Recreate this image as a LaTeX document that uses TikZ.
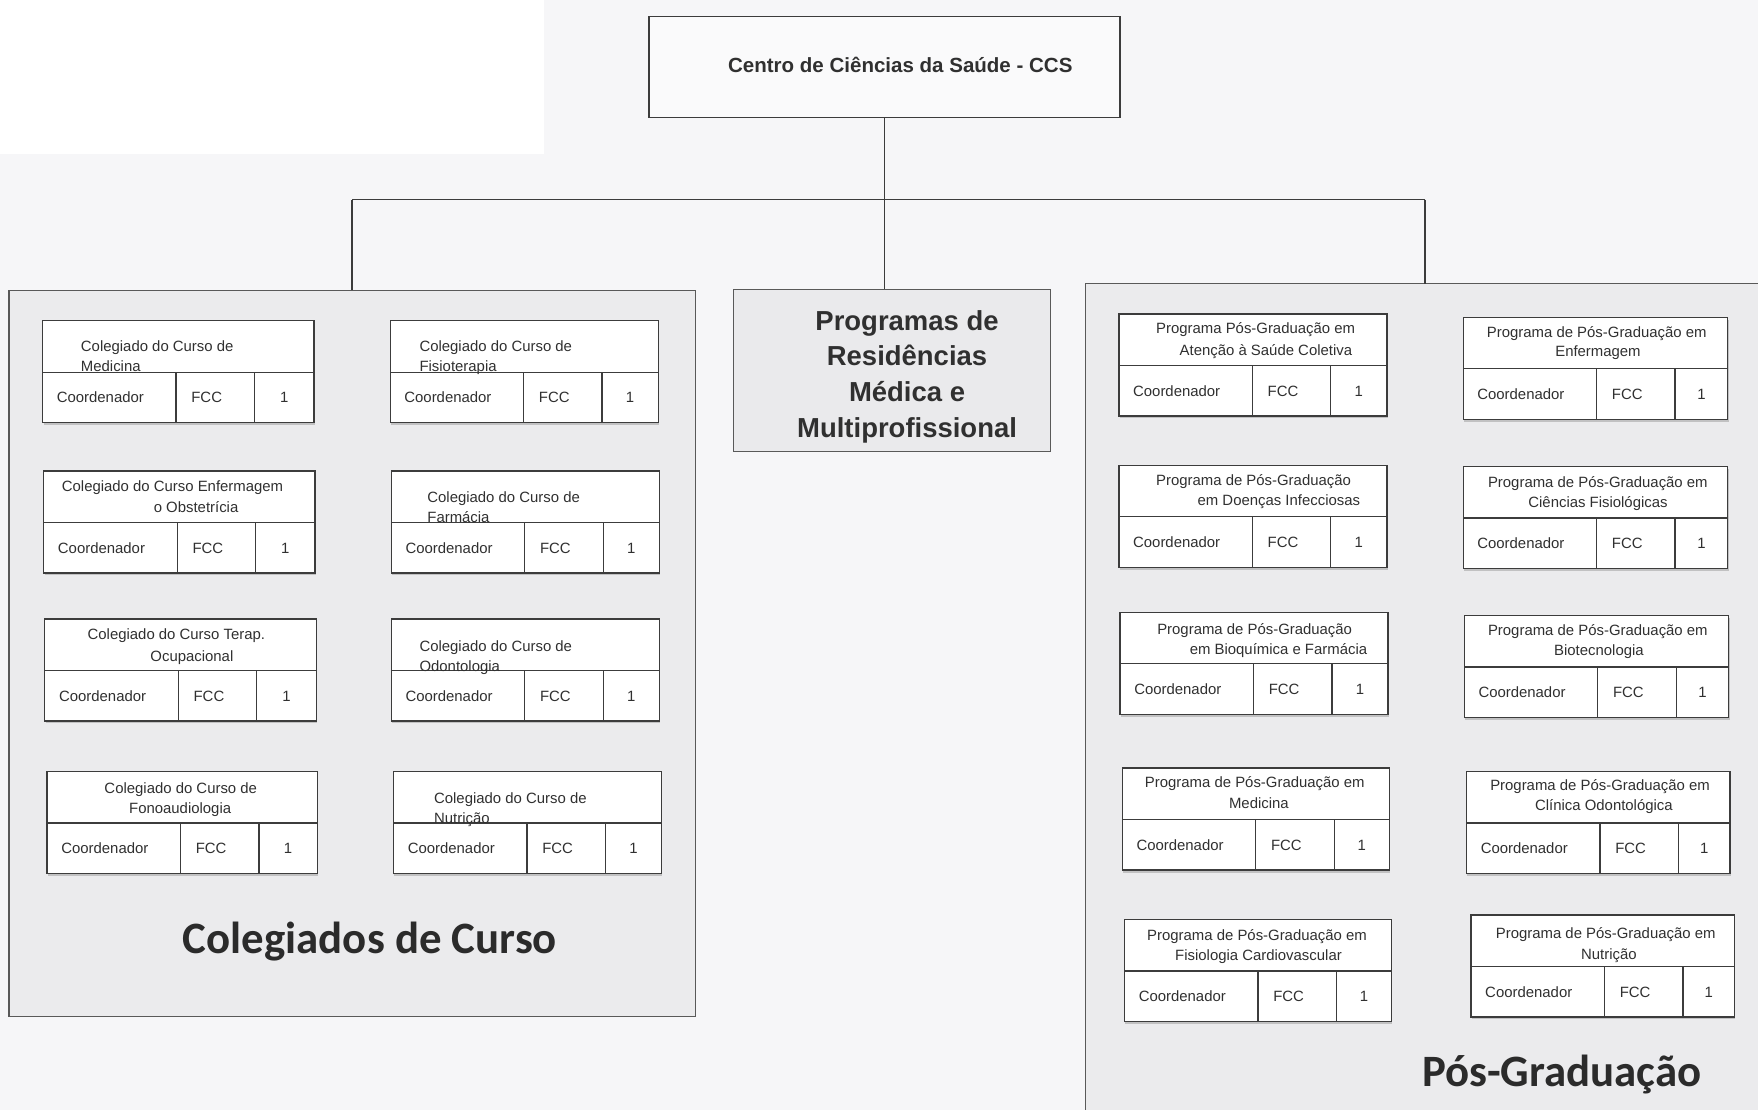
\documentclass[tikz,border=0pt]{standalone}
\usepackage{fontspec}
\setmainfont{Liberation Sans}
\newfontfamily\calibfont{Carlito}
\usetikzlibrary{shadows}
\definecolor{bgc}{HTML}{F6F6F8}
\definecolor{panelc}{HTML}{EBEBED}
\definecolor{boxgc}{HTML}{EAEAEC}
\definecolor{linec}{HTML}{3C3C3C}
\definecolor{txtc}{HTML}{303030}
\tikzset{
  x=1pt, y=-1pt,
  boxshadow/.style={drop shadow={shadow xshift=0.8pt, shadow yshift=-2.2pt, opacity=.35, fill=black!55}},
  hdr/.style={draw=linec, line width=1.1pt, fill=white, minimum height=46pt, inner sep=0pt, outer sep=0pt, boxshadow},
  cellbox/.style={draw=linec, line width=1.1pt, fill=white, minimum height=45pt, inner sep=0pt, outer sep=0pt, boxshadow},
  celltxt/.style={inner sep=0pt, text=txtc, font=\fontsize{13.3}{16}\selectfont, text height=9.5pt, text depth=0pt},
  hl/.style={inner sep=0pt, anchor=west, text=txtc, font=\fontsize{13.3}{16}\selectfont, text height=9.5pt, text depth=0pt},
  panel/.style={draw=linec!85, line width=1pt, fill=panelc, inner sep=0pt, outer sep=0pt, anchor=north west},
  conn/.style={draw=linec, line width=1.2pt},
  bigtitle/.style={inner sep=0pt, anchor=base, text=txtc!90!black, font=\calibfont\bfseries\fontsize{40}{48}\selectfont},
}
\newcommand\orgbox[4]{%
  \node[hdr, minimum width=#4pt, anchor=north west] (#1) at (#2,#3) {};
  \node[cellbox, minimum width=119pt, anchor=north west] (#1a) at (#1.south west) {};
  \node[cellbox, minimum width=70pt, anchor=north west] (#1b) at (#1a.north east) {};
  \node[cellbox, minimum width=#4pt-189pt, anchor=north west] (#1c) at (#1b.north east) {};
  \node[celltxt, anchor=west] (#1ta) at ([xshift=12.5pt]#1a.west) {Coordenador};
  \node[celltxt, anchor=west] (#1tb) at ([xshift=13.5pt]#1b.west) {FCC};
  \node[celltxt] (#1tc) at (#1c.center) {1};
}
\begin{document}
\begin{tikzpicture}
\fill[bgc] (0,0) rectangle (1568,990);
\fill[white] (0,0) rectangle (485,137);
\useasboundingbox (0,0) rectangle (1568,990);

% top box
\node[draw=linec, line width=1.2pt, fill=bgc!60!white, minimum width=420pt, minimum height=90pt, inner sep=0pt, outer sep=0pt, anchor=north west] (ccs) at (579,15) {};
\node[inner sep=0pt, text=txtc, font=\bfseries\fontsize{18.3}{22}\selectfont, text height=13pt, text depth=0pt] (ccst) at (803,58) {Centro de Ciências da Saúde - CCS};

% panels
\node[panel, minimum width=612pt, minimum height=648pt] (colp) at (8,259) {};
\node[panel, minimum width=640pt, minimum height=780pt] (posp) at (968,253) {};
\node[draw=linec!85, line width=1pt, fill=boxgc, minimum width=283pt, minimum height=145pt, inner sep=0pt, outer sep=0pt, anchor=north west] (res) at (654,258) {};
\node[inner sep=0pt, text=txtc, align=center, font=\bfseries\fontsize{24.5}{32}\selectfont] (rest) at (809,336) {Programas de\\Residências\\Médica e\\Multiprofissional};

% connectors
\coordinate (jl) at (314,178);
\coordinate (jr) at (1271,178);
\draw[conn] (ccs.south) -- (ccs.south |- res.north);
\draw[conn] (jl) -- (jr);
\draw[conn] (jl) -- (jl |- colp.north);
\draw[conn] (jr) -- (jr |- posp.north);

% Colegiados
\orgbox{cm}{38}{286}{242}
\node[hl] (cm1) at (72,309) {Colegiado do Curso de};
\node[hl] (cm2) at (72,327) {Medicina};
\orgbox{cf}{348}{286}{239}
\node[hl] (cf1) at (374,309) {Colegiado do Curso de};
\node[hl] (cf2) at (374,327) {Fisioterapia};
\orgbox{ce}{39}{420}{242}
\node[hl] (ce1) at (55,434) {Colegiado do Curso Enfermagem};
\node[hl] (ce2) at (137,452) {o Obstetrícia};
\orgbox{cfa}{349}{420}{239}
\node[hl] (cfa1) at (381,443) {Colegiado do Curso de};
\node[hl] (cfa2) at (381,461) {Farmácia};
\orgbox{ct}{40}{552}{242}
\node[hl] (ct1) at (78,566) {Colegiado do Curso Terap.};
\node[hl] (ct2) at (134,585) {Ocupacional};
\orgbox{co}{349}{552}{239}
\node[hl] (co1) at (374,576) {Colegiado do Curso de};
\node[hl] (co2) at (374,594) {Odontologia};
\orgbox{cfo}{42}{688}{241}
\node[hl] (cfo1) at (93,703) {Colegiado do Curso de};
\node[hl] (cfo2) at (115,721) {Fonoaudiologia};
\orgbox{cn}{351}{688}{239}
\node[hl] (cn1) at (387,712) {Colegiado do Curso de};
\node[hl] (cn2) at (387,730) {Nutrição};

\node[bigtitle] (colt) at (330,850) {Colegiados de Curso};

% Pos-Graduacao
\orgbox{pa}{998}{280}{239}
\node[hl] (pa1) at (1031,293) {Programa Pós-Graduação em};
\node[hl] (pa2) at (1052,312) {Atenção à Saúde Coletiva};
\orgbox{pb}{1305}{283}{236}
\node[hl] (pb1) at (1326,296) {Programa de Pós-Graduação em};
\node[hl] (pb2) at (1387,313) {Enfermagem};
\orgbox{pc}{998}{415}{239}
\node[hl] (pc1) at (1031,428) {Programa de Pós-Graduação};
\node[hl] (pc2) at (1068,446) {em Doenças Infecciosas};
\orgbox{pd}{1305}{416}{236}
\node[hl] (pd1) at (1327,430) {Programa de Pós-Graduação em};
\node[hl] (pd2) at (1363,448) {Ciências Fisiológicas};
\orgbox{pe}{999}{546}{239}
\node[hl] (pe1) at (1032,561) {Programa de Pós-Graduação};
\node[hl] (pe2) at (1061,579) {em Bioquímica e Farmácia};
\orgbox{pf}{1306}{549}{236}
\node[hl] (pf1) at (1327,562) {Programa de Pós-Graduação em};
\node[hl] (pf2) at (1386,580) {Biotecnologia};
\orgbox{pg}{1001}{685}{238}
\node[hl] (pg1) at (1021,698) {Programa de Pós-Graduação em};
\node[hl] (pg2) at (1096,716) {Medicina};
\orgbox{ph}{1308}{688}{235}
\node[hl] (ph1) at (1329,700) {Programa de Pós-Graduação em};
\node[hl] (ph2) at (1369,718) {Clínica Odontológica};
\orgbox{pi}{1003}{820}{238}
\node[hl] (pi1) at (1023,834) {Programa de Pós-Graduação em};
\node[hl] (pi2) at (1048,852) {Fisiologia Cardiovascular};
\orgbox{pj}{1312}{816}{235}
\node[hl] (pj1) at (1334,832) {Programa de Pós-Graduação em};
\node[hl] (pj2) at (1410,851) {Nutrição};

\node[bigtitle] (post) at (1393,969) {Pós-Graduação};
\end{tikzpicture}
\end{document}
